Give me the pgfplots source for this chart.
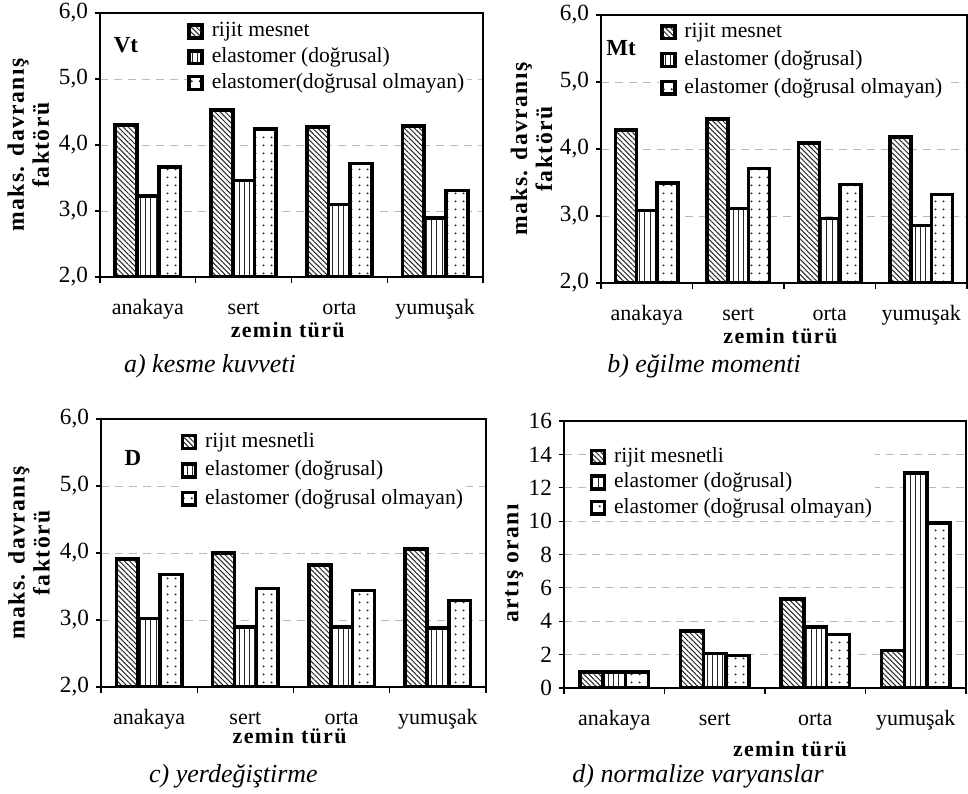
\documentclass[border=0pt]{standalone}
\usepackage{fontspec}
\setmainfont{Liberation Serif}
\usepackage{pgfplots}
\pgfplotsset{compat=1.18}
\usetikzlibrary{patterns.meta}

\newcommand\tf{\fontsize{11}{13}\selectfont}
\newcommand\nf{\fontsize{11.6}{13}\selectfont}

\pgfplotsset{
  sq/.style={legend image code/.code={\draw[##1,line width=1.6pt] (0pt,-3.2pt) rectangle (6.5pt,3.2pt);}},
  barbase/.style={ybar, bar width=0.227, draw=black, line width=1.8pt, preaction={fill=white}, pattern color=black!85},
  rij/.style={barbase, bar shift=-0.227, pattern={Lines[angle=-45,distance=1.8pt,line width=0.5pt]}, sq},
  elas/.style={barbase, bar shift=0, pattern={Lines[angle=90,distance=2.6pt,line width=0.5pt]}, sq},
  nonl/.style={barbase, bar shift=0.227, pattern={Dots[distance=4pt,radius=0.6pt]}, sq},
  panel/.style={
    scale only axis, anchor=south west,
    xmin=-0.5, xmax=3.5,
    xtick={0,1,2,3}, xticklabels={anakaya,sert,orta,yumuşak},
    minor xtick={-0.5,0.5,1.5,2.5,3.5},
    major x tick style={draw=none},
    minor x tick style={black, line width=0.6pt},
    tick align=outside, major tick length=2.5pt, minor tick length=2.8pt,
    xtick pos=bottom, ytick pos=left,
    ytick style={black, line width=0.6pt},
    ymajorgrids, grid style={gray!55, dash pattern=on 4pt off 3pt, line width=0.5pt},
    axis line style={black, line width=0.6pt},
    ticklabel style={font=\tf},
    yticklabel style={font=\nf},
    xticklabel style={anchor=base, yshift=-16pt},
    /pgf/number format/assume math mode=true,
    xlabel={zemin türü},
    xlabel style={font=\bfseries\tf\addfontfeature{LetterSpace=6}, at={(axis description cs:0.49,0)}, anchor=base, yshift=-30pt},
    legend cell align=left,
    legend style={draw=none, fill=white, inner sep=0.5pt, anchor=north west,
      font=\fontsize{10.8}{12}\selectfont,
      nodes={inner sep=1pt, text height=7.5pt, text depth=2.2pt},
      /tikz/every odd column/.append style={column sep=3pt}},
  },
  fac/.style={
    ymin=2, ymax=6, ytick={2,3,4,5,6},
    yticklabel style={/pgf/number format/.cd, fixed, fixed zerofill, precision=1, use comma},
    ylabel={maks. davranış\\faktörü},
    ylabel style={align=center, font=\bfseries\fontsize{11.8}{12.5}\selectfont\addfontfeature{LetterSpace=6},
      at={(axis description cs:#1,0.5)}, anchor=center},
  },
}

\begin{document}
\begin{tikzpicture}
\useasboundingbox (0,0) rectangle (484pt,-396.5pt);

% a) kesme kuvveti
\begin{axis}[panel, fac=-0.187, at={(50pt,-138.5pt)}, width=191.5pt, height=132pt,
  legend style={at={(0.225,0.98)}, row sep=1.2pt}]
\addplot[rij] coordinates {(0,4.30) (1,4.53) (2,4.27) (3,4.29)};
\addplot[elas] coordinates {(0,3.23) (1,3.46) (2,3.10) (3,2.89)};
\addplot[nonl] coordinates {(0,3.67) (1,4.24) (2,3.72) (3,3.31)};
\legend{rijit mesnet, elastomer (doğrusal), elastomer(doğrusal olmayan)}
\end{axis}

% b) egilme momenti
\begin{axis}[panel, fac=-0.19, at={(300.5pt,-141.5pt)}, width=183pt, height=134pt,
  legend style={at={(0.158,0.985)}, row sep=2.2pt}]
\addplot[rij] coordinates {(0,4.28) (1,4.45) (2,4.09) (3,4.18)};
\addplot[elas] coordinates {(0,3.08) (1,3.11) (2,2.96) (3,2.86)};
\addplot[nonl] coordinates {(0,3.49) (1,3.71) (2,3.47) (3,3.32)};
\legend{rijit mesnet, elastomer (doğrusal), elastomer (doğrusal olmayan)}
\end{axis}

% c) yerdegistirme
\begin{axis}[panel, fac=-0.187, at={(50.5pt,-343.5pt)}, width=192.5pt, height=134pt,
  legend style={at={(0.204,0.963)}, row sep=2.5pt},
  xlabel style={yshift=2pt}]
\addplot[rij] coordinates {(0,3.91) (1,4.00) (2,3.82) (3,4.06)};
\addplot[elas] coordinates {(0,3.02) (1,2.90) (2,2.90) (3,2.88)};
\addplot[nonl] coordinates {(0,3.68) (1,3.47) (2,3.44) (3,3.29)};
\legend{rijıt mesnetli, elastomer (doğrusal), elastomer (doğrusal olmayan)}
\end{axis}

% d) normalize varyanslar
\begin{axis}[panel, at={(282pt,-344pt)}, width=201pt, height=133.5pt,
  ymin=0, ymax=16, ytick={0,2,...,16},
  ylabel={artış oranı},
  ylabel style={font=\bfseries\fontsize{11.8}{12.5}\selectfont\addfontfeature{LetterSpace=6},
    at={(axis description cs:-0.124,0.468)}, anchor=center},
  xlabel style={at={(axis description cs:0.562,0)}, yshift=-4pt},
  legend style={at={(0.061,0.914)}, row sep=1pt}]
\addplot[rij] coordinates {(0,0.95) (1,3.42) (2,5.32) (3,2.26)};
\addplot[elas] coordinates {(0,0.95) (1,2.06) (2,3.66) (3,12.9)};
\addplot[nonl] coordinates {(0,0.95) (1,1.96) (2,3.20) (3,9.89)};
\legend{rijit mesnetli, elastomer (doğrusal), elastomer (doğrusal olmayan)}
\end{axis}

\node[font=\bfseries\fontsize{11.5}{13}\selectfont, anchor=base] at (63pt,-26pt) {Vt};
\node[font=\bfseries\fontsize{11.5}{13}\selectfont, anchor=base] at (310.5pt,-27.5pt) {Mt};
\node[font=\bfseries\fontsize{11.5}{13}\selectfont, anchor=base] at (66.5pt,-232.5pt) {D};

\node[font=\itshape\fontsize{13}{15}\selectfont, anchor=base west] at (58.5pt,-186pt) {a) kesme kuvveti};
\node[font=\itshape\fontsize{13}{15}\selectfont, anchor=base] at (352pt,-186pt) {b) eğilme momenti};
\node[font=\itshape\fontsize{13}{15}\selectfont, anchor=base west] at (71pt,-391pt) {c) yerdeğiştirme};
\node[font=\itshape\fontsize{13}{15}\selectfont, anchor=base] at (349pt,-391pt) {d) normalize varyanslar};
\end{tikzpicture}
\end{document}
